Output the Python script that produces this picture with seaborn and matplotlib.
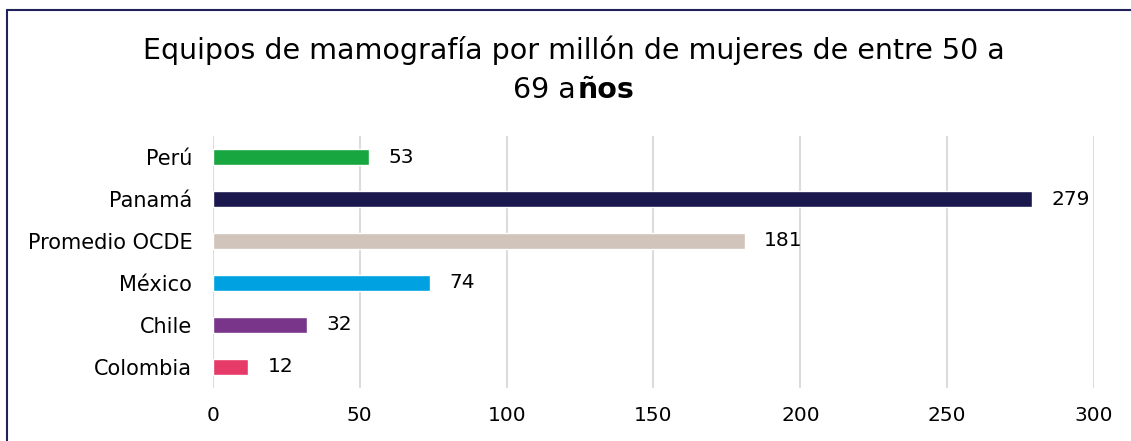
import matplotlib
matplotlib.use("Agg")
import matplotlib.pyplot as plt
import seaborn as sns
import pandas as pd
from matplotlib.lines import Line2D

paises = ["Perú", "Panamá", "Promedio OCDE", "México", "Chile", "Colombia"]
equipos = [53, 279, 181, 74, 32, 12]
colores = ["#17a640", "#1a184c", "#d0c4bb", "#00a1e1", "#78358a", "#e63b68"]
ticks_x = [0, 50, 100, 150, 200, 250, 300]

df = pd.DataFrame({"pais": paises, "valor": equipos})

sns.set_style("white")
plt.rcParams["font.family"] = ["DejaVu Sans"]
plt.rcParams["text.color"] = "black"
plt.rcParams["xtick.color"] = "black"
plt.rcParams["ytick.color"] = "black"

fig = plt.figure(figsize=(11.31, 4.41), dpi=100)
ax = fig.add_axes([0.1883, 0.1202, 0.9673 - 0.1883, 0.6916 - 0.1202])

sns.barplot(data=df, x="valor", y="pais", hue="pais", palette=colores,
            orient="h", width=0.37, legend=False, ax=ax, saturation=1)

ax.set_xlim(0, 300)
ax.set_ylim(5.5, -0.5)
ax.set_xticks(ticks_x)
ax.set_xticklabels([str(t) for t in ticks_x], fontsize=14.5)
ax.tick_params(axis="y", labelsize=15, length=0, pad=15)
ax.tick_params(axis="x", length=0, pad=13)
ax.set_xlabel("")
ax.set_ylabel("")
ax.grid(axis="x", color="#dcdcdc", linewidth=1.5)
ax.set_axisbelow(True)
for s in ax.spines.values():
    s.set_visible(False)

for i, v in enumerate(equipos):
    ax.annotate(str(v), xy=(v, i), xytext=(14, 0), textcoords="offset points",
                va="center", ha="left", fontsize=14.5)

# titulo en dos lineas, "ños" en negrita
fig.text(0.5075, 0.885, "Equipos de mamografía por millón de mujeres de entre 50 a",
         ha="center", va="center", fontsize=20.5)
fig.canvas.draw()
r = fig.canvas.get_renderer()
t1 = fig.text(0, 0.795, "69 a", ha="left", va="center", fontsize=20.5)
t2 = fig.text(0, 0.795, "ños", ha="left", va="center", fontsize=20.5, fontweight="bold")
w1 = t1.get_window_extent(r).width / fig.bbox.width + 1.5 / 1131
w2 = t2.get_window_extent(r).width / fig.bbox.width
x0 = 0.5075 - (w1 + w2) / 2
t1.set_x(x0)
t2.set_x(x0 + w1)

# borde del grafico
fig.add_artist(Line2D([7 / 1131, 1], [1 - 10 / 441, 1 - 10 / 441], color="#22225a",
                      linewidth=1.5, transform=fig.transFigure))
fig.add_artist(Line2D([7 / 1131, 7 / 1131], [0, 1 - 10 / 441], color="#22225a",
                      linewidth=1.5, transform=fig.transFigure))

fig.savefig("out.png", dpi=100)
